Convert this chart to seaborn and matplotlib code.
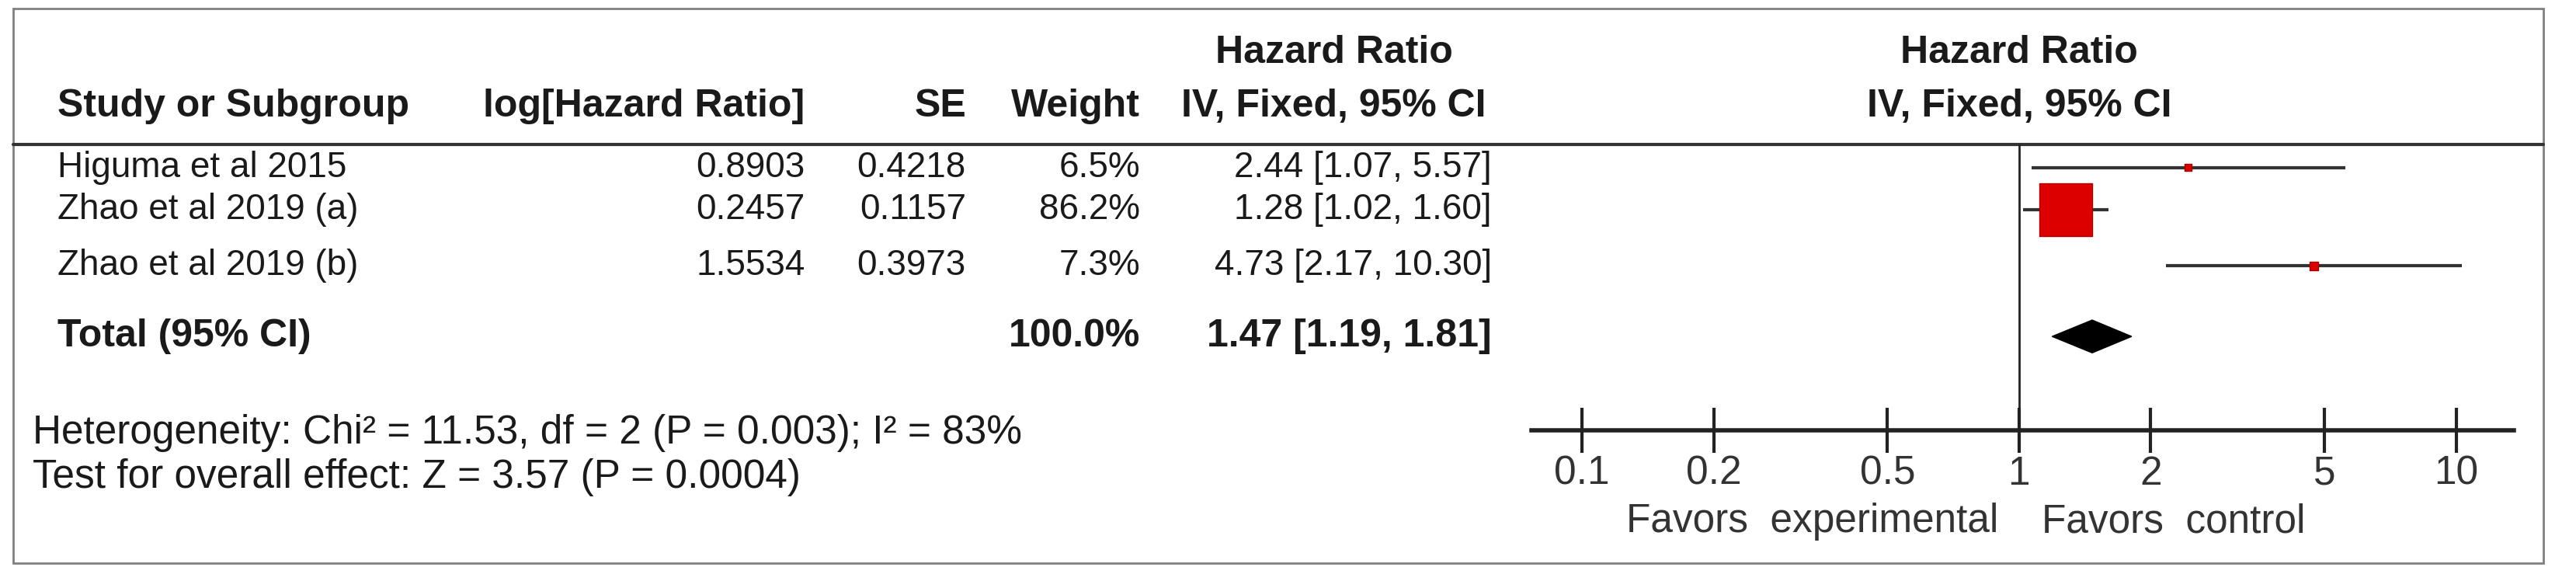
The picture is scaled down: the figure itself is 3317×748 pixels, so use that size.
import matplotlib
matplotlib.use("Agg")
import matplotlib.pyplot as plt
import numpy as np
import pandas as pd
import seaborn as sns

studies = ["Higuma et al 2015", "Zhao et al 2019 (a)", "Zhao et al 2019 (b)"]
log_hr = ["0.8903", "0.2457", "1.5534"]
se = ["0.4218", "0.1157", "0.3973"]
weight = [6.5, 86.2, 7.3]
hr = [2.44, 1.28, 4.73]
ci_low = [1.07, 1.02, 2.17]
ci_high = [5.57, 1.60, 10.30]
hr_text = ["2.44 [1.07, 5.57]", "1.28 [1.02, 1.60]", "4.73 [2.17, 10.30]"]
total_hr, total_low, total_high = 1.47, 1.19, 1.81
total_text = "1.47 [1.19, 1.81]"
het_text = "Heterogeneity: Chi² = 11.53, df = 2 (P = 0.003); I² = 83%"
effect_text = "Test for overall effect: Z = 3.57 (P = 0.0004)"
ticks = [0.1, 0.2, 0.5, 1, 2, 5, 10]

sns.set_style("white")
plt.rcParams["font.family"] = ["Liberation Sans", "DejaVu Sans"]

W, H = 1568, 354  # layout grid (scaled screen units)
fig = plt.figure(figsize=(33.17, 7.48), dpi=100)
ax = fig.add_axes([0, 0, 1, 1])
ax.set_xlim(0, W)
ax.set_ylim(H, 0)
ax.axis("off")

fs = 33       # body text
fb = 36       # bold headers / total
ff = 37       # footer and favors text
txt = "#1a1a1a"
# frame and header rule
ax.add_patch(plt.Rectangle((8, 5), 1540, 338, fill=False, ec="#808080", lw=2))
ax.plot([8, 1548], [88, 88], color="#333333", lw=3)

# headers
ax.text(812, 32, "Hazard Ratio", ha="center", va="center", fontsize=fb, fontweight="bold", color=txt)
ax.text(1229, 32, "Hazard Ratio", ha="center", va="center", fontsize=fb, fontweight="bold", color=txt)
ax.text(35, 65, "Study or Subgroup", ha="left", va="center", fontsize=fb, fontweight="bold", color=txt)
ax.text(490, 65, "log[Hazard Ratio]", ha="right", va="center", fontsize=fb, fontweight="bold", color=txt)
ax.text(588, 65, "SE", ha="right", va="center", fontsize=fb, fontweight="bold", color=txt)
ax.text(694, 65, "Weight", ha="right", va="center", fontsize=fb, fontweight="bold", color=txt)
ax.text(812, 65, "IV, Fixed, 95% CI", ha="center", va="center", fontsize=fb, fontweight="bold", color=txt)
ax.text(1229, 65, "IV, Fixed, 95% CI", ha="center", va="center", fontsize=fb, fontweight="bold", color=txt)

row_y = [102, 128, 162]
total_y = 205
for i, y in enumerate(row_y):
    ax.text(35, y, studies[i], ha="left", va="center", fontsize=fs, color=txt)
    ax.text(490, y, log_hr[i], ha="right", va="center", fontsize=fs, color=txt)
    ax.text(588, y, se[i], ha="right", va="center", fontsize=fs, color=txt)
    ax.text(694, y, f"{weight[i]}%", ha="right", va="center", fontsize=fs, color=txt)
    ax.text(908, y, hr_text[i], ha="right", va="center", fontsize=fs, color=txt)

ax.text(35, total_y, "Total (95% CI)", ha="left", va="center", fontsize=fb, fontweight="bold", color=txt)
ax.text(694, total_y, f"{sum(weight):.1f}%", ha="right", va="center", fontsize=fb, fontweight="bold", color=txt)
ax.text(908, total_y, total_text, ha="right", va="center", fontsize=fb, fontweight="bold", color=txt)
ax.text(20, 264, het_text, ha="left", va="center", fontsize=ff, color=txt)
ax.text(20, 291, effect_text, ha="left", va="center", fontsize=ff, color=txt)
ax.text(1103, 318, "Favors  experimental", ha="center", va="center", fontsize=ff, color="#333333")
ax.text(1323, 318, "Favors  control", ha="center", va="center", fontsize=ff, color="#333333")

# forest panel
x0, x1, ytop, ybot = 932, 1530, 88, 262
fx = fig.add_axes([x0 / W, (H - ybot) / H, (x1 - x0) / W, (ybot - ytop) / H])
fx.patch.set_alpha(0)
fx.set_xscale("log")
fx.set_xlim(10 ** ((x0 - 1229) / 266), 10 ** ((x1 - 1229) / 266))
fx.set_ylim(ybot, ytop)
for s in ["top", "left", "right"]:
    fx.spines[s].set_visible(False)
fx.spines["bottom"].set_linewidth(4)
fx.spines["bottom"].set_color("#222222")
fx.set_yticks([])
fx.set_xticks(ticks)
fx.set_xticklabels([f"{t:g}" for t in ticks])
fx.minorticks_off()
fx.tick_params(axis="x", which="major", bottom=True, direction="inout", length=42, width=3,
               color="#222222", labelsize=ff, labelcolor="#333333", pad=2)
fx.axvline(1, color="#222222", lw=2)

df = pd.DataFrame({"hr": hr, "y": row_y, "weight": weight})
fx.hlines(row_y, ci_low, ci_high, color="#333333", lw=3)
sns.scatterplot(data=df, x="hr", y="y", size="weight", sizes=(40, 2400), marker="s",
                color="#dd0000", edgecolor="#aa0000", linewidth=1, legend=False, ax=fx, zorder=3)
fx.set_xlabel("")
fx.set_ylabel("")
fx.fill([total_low, total_hr, total_high, total_hr],
        [total_y, total_y - 10, total_y, total_y + 10], color="black", zorder=3)

fig.savefig("out.png", dpi=100)
